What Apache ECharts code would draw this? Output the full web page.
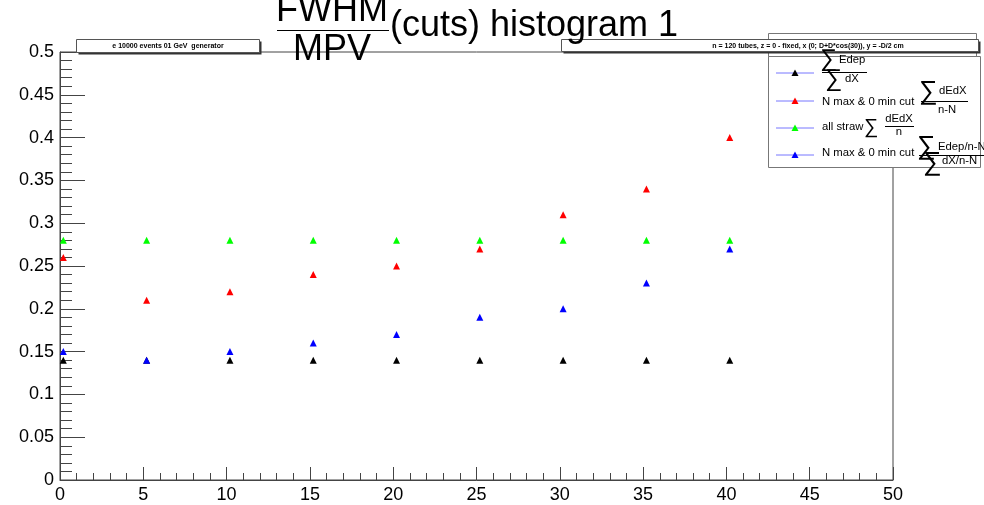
<!DOCTYPE html>
<html>
<head>
<meta charset="utf-8">
<script src="https://cdn.jsdelivr.net/npm/echarts@6/dist/echarts.min.js"></script>
<style>html,body{margin:0;padding:0;background:#fff}#c{width:984px;height:505px}</style>
</head>
<body>
<div id="c"></div>
<script>
// x positions of the points
var xs = [0.2, 5.2, 10.2, 15.2, 20.2, 25.2, 30.2, 35.2, 40.2];
var sumEdepOverSumDx = [0.14, 0.14, 0.14, 0.14, 0.14, 0.14, 0.14, 0.14, 0.14];
var nMaxCutSumDEdX = [0.26, 0.21, 0.22, 0.24, 0.25, 0.27, 0.31, 0.34, 0.40];
var allStraw = [0.28, 0.28, 0.28, 0.28, 0.28, 0.28, 0.28, 0.28, 0.28];
var nMaxCutRatio = [0.15, 0.14, 0.15, 0.16, 0.17, 0.19, 0.20, 0.23, 0.27];
var xTicks = [0, 5, 10, 15, 20, 25, 30, 35, 40, 45, 50];
var yTicks = [0, 0.05, 0.1, 0.15, 0.2, 0.25, 0.3, 0.35, 0.4, 0.45, 0.5];

function pts(vals){ return vals.map(function(v,i){ return [xs[i], v]; }); }
var F = '"Liberation Sans", Arial, Helvetica, sans-serif';
function txt(x,y,s,size,align,extra){
  return {type:'text', x:x, y:y, z:100, style:{text:s, font:(extra||'')+' '+size+'px '+F, fill:'#000', textAlign:align||'left', textVerticalAlign:'middle'}};
}
function hline(x1,x2,y,color,w){
  return {type:'line', z:100, shape:{x1:x1,y1:y,x2:x2,y2:y}, style:{stroke:color||'#000', lineWidth:w||1}};
}
function tri(cx,cy,color){
  return {type:'polygon', z:101, shape:{points:[[cx-3.5,cy+3],[cx+3.5,cy+3],[cx,cy-3.5]]}, style:{fill:color}};
}
function box(x,y,w,h,z){
  return [
    {type:'rect', z:z, shape:{x:x+2,y:y+2,width:w,height:h}, style:{fill:'#333'}},
    {type:'rect', z:z+0.1, shape:{x:x,y:y,width:w,height:h}, style:{fill:'#fff', stroke:'#555', lineWidth:1}}
  ];
}

var chart = echarts.init(document.getElementById('c'), null, {renderer:'canvas'});
var graphics = [];
// back box behind legend
graphics.push({type:'rect', z:50, shape:{x:768.5,y:33.5,width:208,height:130}, style:{fill:'#fff', stroke:'#777', lineWidth:1}});
graphics = graphics.concat(box(76.5,39.5,183,13,60));
graphics = graphics.concat(box(561.5,39.5,417,12,60));
graphics.push(txt(168,46,'e 10000 events 01 GeV  generator',7,'center','bold'));
graphics.push(txt(808,46,'n = 120 tubes, z = 0 - fixed, x (0; D+D*cos(30)), y = -D/2 cm',7,'center','bold'));
// legend box
graphics.push({type:'rect', z:70, shape:{x:768.5,y:56.5,width:212,height:111}, style:{fill:'#fff', stroke:'#777', lineWidth:1}});
var legY = [73, 101, 128, 155];
var legC = ['#000', '#ff0000', '#00ff00', '#0000ff'];
for (var i=0;i<4;i++){
  graphics.push(hline(776,814,legY[i],'#7777ff',1));
  graphics.push(tri(795,legY[i],legC[i]));
}
var S = 11.3;
// entry 1
graphics.push(txt(820,59,'\u2211',24,'left'));
graphics.push(txt(839,60,'Edep',S,'left'));
graphics.push(hline(822,867,72.5,'#000',1));
graphics.push(txt(825,79,'\u2211',24,'left'));
graphics.push(txt(845,79,'dX',S,'left'));
// entry 2
graphics.push(txt(822,102,'N max & 0 min cut',S,'left'));
graphics.push(txt(919,92,'\u2211',26,'left'));
graphics.push(txt(939,91,'dEdX',S,'left'));
graphics.push(hline(921,968,101.5,'#000',1));
graphics.push(txt(947,110,'n-N',S,'center'));
// entry 3
graphics.push(txt(822,127,'all straw',S,'left'));
graphics.push(txt(864,127,'\u2211',20,'left'));
graphics.push(txt(899,119,'dEdX',S,'center'));
graphics.push(hline(885,914,126.5,'#000',1));
graphics.push(txt(899,132,'n',S,'center'));
// entry 4
graphics.push(txt(822,153,'N max & 0 min cut',S,'left'));
graphics.push(txt(917,147,'\u2211',26,'left'));
graphics.push(txt(938,147,'Edep/n-N',S,'left'));
graphics.push(hline(919,984,155.5,'#000',1));
graphics.push(txt(923,163,'\u2211',26,'left'));
graphics.push(txt(942,161,'dX/n-N',S,'left'));
// title
graphics.push(txt(332,11,'FWHM',36,'center'));
graphics.push(hline(277,389,30.5,'#000',1.2));
graphics.push(txt(332,50,'MPV',36,'center'));
graphics.push(txt(390,26,'(cuts) histogram 1',36,'left'));

chart.setOption({
  animation:false,
  backgroundColor:'#fff',
  grid:{left:60, right:91, top:52, bottom:25, show:true, borderColor:'#444', borderWidth:1, backgroundColor:'transparent'},
  xAxis:{
    type:'value', min:xTicks[0], max:xTicks[xTicks.length-1], interval:5,
    axisLine:{onZero:false, lineStyle:{color:'#444', width:1}},
    axisTick:{inside:true, length:13, lineStyle:{color:'#444'}},
    minorTick:{show:true, splitNumber:5, length:7, lineStyle:{color:'#444'}},
    splitLine:{show:false},
    axisLabel:{color:'#000', fontSize:18, fontFamily:F, margin:6, showMinLabel:true, showMaxLabel:true}
  },
  yAxis:{
    type:'value', min:yTicks[0], max:yTicks[yTicks.length-1], interval:0.05,
    axisLine:{onZero:false, lineStyle:{color:'#444', width:1}},
    axisTick:{inside:true, length:25, lineStyle:{color:'#444'}},
    minorTick:{show:true, splitNumber:5, length:12, lineStyle:{color:'#444'}},
    splitLine:{show:false},
    axisLabel:{color:'#000', fontSize:18, fontFamily:F, margin:6, showMinLabel:true, showMaxLabel:true,
      formatter:function(v){ return String(Math.round(v*100)/100); }}
  },
  series:[
    {type:'scatter', data:pts(sumEdepOverSumDx), symbol:'triangle', symbolSize:7, itemStyle:{color:'#000', opacity:1}},
    {type:'scatter', data:pts(nMaxCutSumDEdX), symbol:'triangle', symbolSize:7, itemStyle:{color:'#ff0000', opacity:1}},
    {type:'scatter', data:pts(allStraw), symbol:'triangle', symbolSize:7, itemStyle:{color:'#00ff00', opacity:1}},
    {type:'scatter', data:pts(nMaxCutRatio), symbol:'triangle', symbolSize:7, itemStyle:{color:'#0000ff', opacity:1}}
  ],
  graphic:graphics
});
</script>
</body>
</html>
